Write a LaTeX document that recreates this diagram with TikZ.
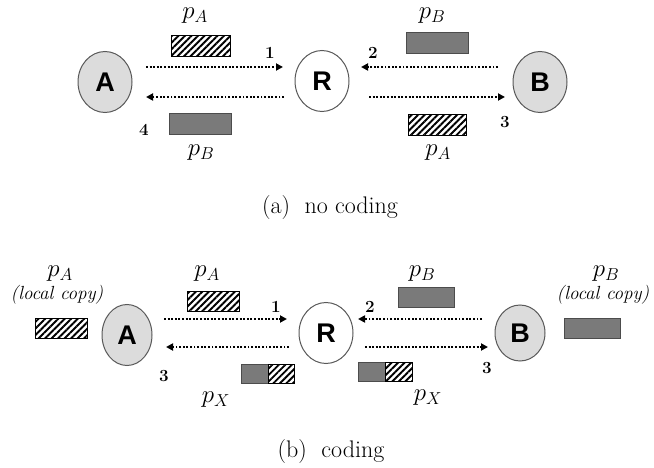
\documentclass[tikz,border=0pt]{standalone}
\usepackage{fontspec}
\newfontfamily\ars{Liberation Sans}
\usetikzlibrary{shapes.geometric,arrows.meta,patterns.meta}
\newcommand\plab[1]{$p_{#1}$}
\definecolor{nodegray}{HTML}{DCDCDC}
\definecolor{pktgray}{HTML}{7A7A7A}
\tikzset{
  endpt/.style={ellipse, draw=black!65, line width=1pt, fill=nodegray, minimum width=54pt, minimum height=61pt, inner sep=0pt, font=\ars\bfseries\fontsize{27}{27}\selectfont},
  relay/.style={endpt, fill=white},
  graypkt/.style={rectangle, draw=black!70, line width=0.9pt, fill=pktgray, inner sep=0pt, minimum width=#1, minimum height=21pt},
  hatchpkt/.style={rectangle, draw=black, line width=0.9pt, inner sep=0pt, minimum width=#1, minimum height=21pt, pattern={Lines[angle=45,distance=4.6pt,line width=1.9pt]}, pattern color=black},
  flow/.style={draw=black, line width=2.2pt, dash pattern=on 1.9pt off 1.7pt, -{Triangle[length=7pt,width=7pt]}},
  plabel/.style={inner sep=0pt, font=\fontsize{26}{26}\selectfont},
  num/.style={inner sep=0pt, font=\bfseries\fontsize{17}{17}\selectfont},
  lc/.style={inner sep=0pt, font=\itshape\fontsize{19}{19}\selectfont},
  captext/.style={inner sep=0pt, font=\fontsize{24}{24}\selectfont}
}
\begin{document}
\begin{tikzpicture}[x=1pt,y=-1pt]
\useasboundingbox (0,0) rectangle (654,468);
% ---------- (a) no coding ----------
\node[endpt] (A1) at (105,82) {A};
\node[relay] (R1) at (322,81) {R};
\node[endpt] (B1) at (540,82) {B};
\node[hatchpkt=59pt] (pa1) at (200.5,46) {};
\node[graypkt=62pt] (pb1) at (200,123.5) {};
\node[graypkt=62pt] (pb2) at (437,42.5) {};
\node[hatchpkt=58pt] (pa2) at (437,125) {};
\node[plabel] (lpa1) at (195,16) {\plab{A}};
\node[plabel] (lpb1) at (201,153) {\plab{B}};
\node[plabel] (lpb2) at (432,16) {\plab{B}};
\node[plabel] (lpa2) at (438,153) {\plab{A}};
\node[num] (n1a) at (270,53) {1};
\node[num] (n2a) at (373,53) {2};
\node[num] (n3a) at (505,122) {3};
\node[num] (n4a) at (144,130) {4};
\coordinate (a1s) at (146,67); \coordinate (a1e) at (283,67);
\coordinate (a4s) at (284,97); \coordinate (a4e) at (146,97);
\coordinate (a2s) at (498,67); \coordinate (a2e) at (361,67);
\coordinate (a3s) at (369,97); \coordinate (a3e) at (505,97);
\draw[flow] (a1s) -- (a1e);
\draw[flow] (a4s) -- (a4e);
\draw[flow] (a2s) -- (a2e);
\draw[flow] (a3s) -- (a3e);
\node[captext] (capa) at (330,208) {(a)\ \ no coding};
% ---------- (b) coding ----------
\node[endpt, minimum width=50pt] (A2) at (127,335) {A};
\node[relay] (R2) at (326,333) {R};
\node[endpt, minimum width=50pt, minimum height=56pt] (B2) at (520,333) {B};
\node[hatchpkt=52pt, minimum height=20pt] (locA) at (61,328) {};
\node[hatchpkt=52pt, minimum height=20pt] (pa3) at (213,301) {};
\node[graypkt=27pt, minimum height=19pt] (pxg1) at (254.5,373.5) {};
\node[hatchpkt=26pt, minimum height=19pt] (pxh1) at (281,373.5) {};
\node[graypkt=56pt, minimum height=20pt] (pb3) at (426,297) {};
\node[graypkt=27pt, minimum height=19pt] (pxg2) at (371.5,371.5) {};
\node[hatchpkt=27pt, minimum height=19pt] (pxh2) at (398.5,371.5) {};
\node[graypkt=56pt, minimum height=20pt] (locB) at (592,328) {};
\node[plabel] (llpa) at (60,274) {\plab{A}};
\node[lc] (llca) at (57,295) {(local copy)};
\node[plabel] (lpa3) at (207,274) {\plab{A}};
\node[plabel] (lpx1) at (216,400) {\plab{X}};
\node[plabel] (lpb3) at (422,274) {\plab{B}};
\node[plabel] (lpx2) at (428,398) {\plab{X}};
\node[plabel] (llpb) at (606,274) {\plab{B}};
\node[lc] (llcb) at (603,295) {(local copy)};
\node[num] (n1b) at (276,307) {1};
\node[num] (n2b) at (370,307) {2};
\node[num] (n3b) at (164,376) {3};
\node[num] (n3c) at (487,368) {3};
\coordinate (b1s) at (164,319); \coordinate (b1e) at (287,319);
\coordinate (b3s) at (289,347); \coordinate (b3e) at (166,347);
\coordinate (b2s) at (482,319); \coordinate (b2e) at (358,319);
\coordinate (b4s) at (365,347); \coordinate (b4e) at (488,347);
\draw[flow] (b1s) -- (b1e);
\draw[flow] (b3s) -- (b3e);
\draw[flow] (b2s) -- (b2e);
\draw[flow] (b4s) -- (b4e);
\node[captext] (capb) at (331,452) {(b)\ \ coding};
\end{tikzpicture}
\end{document}
